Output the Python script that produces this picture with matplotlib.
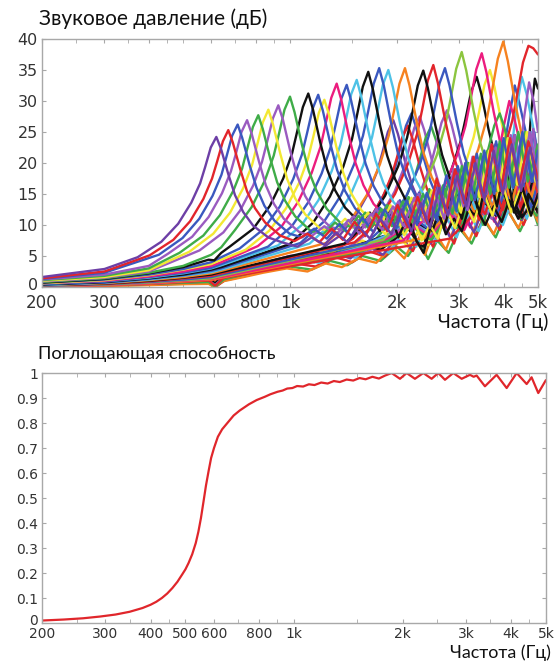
import matplotlib
matplotlib.use("Agg")
import matplotlib.pyplot as plt
import matplotlib.transforms as mtransforms
from matplotlib.ticker import FixedLocator, NullFormatter

plt.rcParams['font.family'] = ['DejaVu Sans']
LABEL_FONT = ['Lato', 'Open Sans', 'DejaVu Sans']

P = '#6d3fa6'   # purple
L = '#9a5bc0'   # lavender
R = '#e2252b'   # red
B = '#3a58bf'   # blue
G = '#3fac48'   # green
LG = '#8cc53f'  # light green
Y = '#f3e833'   # yellow
K = '#111111'   # black
M = '#ec1c7e'   # magenta
C = '#4ec2e6'   # cyan
O = '#f6821f'   # orange

# ---- верхний график: звуковое давление (Гц, дБ) ----
# почти без резонанса
v1 = [(200, .1), (300, .2), (400, .35), (500, .5), (590, .6), (615, 0), (650, 1), (750, 1.8), (850, 2.6), (1000, 3.3), (1150, 2.8), (1300, 4.2), (1450, 3.5), (1600, 5), (1800, 4.2), (2000, 6.5), (2150, 5), (2300, 7.5), (2450, 4.5), (2600, 7.5), (2800, 5.5), (3000, 9.5), (3250, 7), (3500, 11), (3800, 8), (4100, 12.5), (4450, 9), (4800, 13), (5000, 10)]
v2 = [(200, .15), (300, .25), (400, .4), (500, .55), (590, .7), (620, .1), (660, 1.2), (760, 2.1), (870, 2.9), (1030, 3.8), (1180, 3.3), (1340, 4.8), (1500, 4), (1660, 5.8), (1850, 4.9), (2060, 7.8), (2220, 5.8), (2380, 9.4), (2530, 6.5), (2700, 10.5), (2900, 7), (3100, 11.8), (3350, 8.2), (3600, 13), (3900, 9.2), (4200, 14), (4550, 10), (4900, 14.5), (5000, 11)]
v3 = [(200, .1), (300, .2), (400, .3), (500, .45), (590, .5), (612, 0), (645, .9), (740, 1.6), (840, 2.3), (980, 3), (1120, 2.5), (1260, 3.8), (1400, 3.2), (1560, 4.6), (1750, 3.9), (1950, 6.5), (2100, 4.6), (2250, 7.8), (2400, 5.2), (2550, 9), (2750, 6), (2950, 10.5), (3200, 7.5), (3450, 12), (3750, 8.5), (4050, 13), (4400, 9.5), (4750, 13.5), (5000, 10.5)]
v4 = [(200, .2), (300, .35), (400, .55), (500, .75), (590, .9), (618, .3), (655, 1.5), (770, 2.5), (880, 3.4), (1060, 4.4), (1210, 3.9), (1370, 5.5), (1530, 4.7), (1700, 7), (1900, 5.5), (2100, 9), (2270, 6.5), (2430, 10.5), (2580, 7.2), (2750, 11.5), (2950, 8), (3150, 12.8), (3400, 9), (3680, 14), (3980, 10), (4300, 15), (4650, 11), (4950, 15.5), (5000, 12)]
v5 = [(200, .25), (300, .4), (400, .65), (500, .9), (590, 1.1), (615, .4), (650, 1.8), (750, 2.9), (850, 3.9), (1000, 5), (1130, 4.4), (1280, 6.2), (1420, 5.3), (1580, 7.5), (1770, 6), (1970, 9.5), (2120, 7), (2270, 11), (2420, 7.8), (2570, 12), (2770, 8.6), (2970, 13.5), (3220, 9.6), (3470, 14.5), (3770, 10.5), (4070, 15.5), (4420, 11.5), (4770, 16), (5000, 12.5)]
v6 = [(200, .3), (300, .5), (400, .8), (500, 1), (590, 1.2), (615, .5), (650, 1.9), (760, 3), (860, 3.8), (1020, 4.6), (1170, 4), (1320, 5.6), (1480, 4.6), (1630, 6.8), (1830, 5.2), (2030, 8.5), (2180, 6.2), (2340, 10), (2490, 7), (2640, 11), (2840, 7.8), (3050, 12.5), (3300, 8.8), (3550, 13.5), (3850, 9.8), (4150, 14.5), (4500, 10.8), (4850, 15), (5000, 11.8)]

# резонансы с невысоким пиком
l01 = [(200, .4), (300, .6), (400, .9), (500, 1.2), (590, 1.5), (615, .7), (650, 2), (800, 3.5), (1000, 5), (1173, 5.4), (1369, 8.1), (1525, 11.3), (1662, 15.1), (1760, 18.6), (1818, 21.5), (1887, 25), (1955, 26.9), (2014, 24.7), (2111, 20.2), (2209, 16.4), (2326, 13.4), (2483, 11), (2620, 14.5), (2760, 10.5), (2900, 15.5), (3080, 11), (3280, 17), (3500, 12), (3750, 18.5), (4020, 12.5), (4320, 19.5), (4650, 13.5), (5000, 18)]
l02 = [(200, .35), (300, .5), (400, .8), (500, 1.1), (590, 1.3), (615, .5), (650, 1.8), (800, 3.2), (1000, 4.5), (1320, 5.6), (1540, 8.4), (1716, 11.8), (1870, 15.7), (1980, 19.3), (2046, 22.4), (2123, 26), (2200, 28), (2266, 25.8), (2376, 21), (2486, 17.1), (2618, 14), (2794, 11.5), (2940, 15), (3100, 11.2), (3270, 16.5), (3480, 11.8), (3710, 18), (3960, 12.5), (4240, 19.5), (4550, 13), (4850, 20), (5000, 16)]
l03 = [(200, .3), (400, .7), (590, 1.2), (615, .4), (650, 1.6), (800, 3), (1000, 4.2), (1392, 5.5), (1624, 8.3), (1810, 11.6), (1972, 15.4), (2088, 19), (2158, 22), (2239, 25.6), (2320, 27.5), (2390, 25.3), (2506, 20.6), (2622, 16.8), (2761, 13.8), (2946, 11.3), (3100, 15), (3248, 11), (3450, 16.5), (3670, 11.5), (3910, 18), (4180, 12), (4480, 19), (4800, 12.5), (5000, 16)]
l04 = [(200, .25), (400, .6), (590, 1), (615, .2), (650, 1.4), (800, 2.8), (1000, 4), (1500, 5.2), (1750, 7.8), (1950, 10.9), (2125, 14.5), (2250, 17.9), (2325, 20.7), (2413, 24.1), (2500, 25.9), (2575, 23.8), (2700, 19.4), (2825, 15.8), (2975, 13), (3175, 10.6), (3350, 14), (3500, 10), (3720, 15.5), (3950, 10.5), (4200, 17), (4480, 11), (4780, 18), (5000, 12)]
l05 = [(200, .2), (400, .5), (590, .9), (615, .3), (650, 1.3), (800, 2.6), (1000, 3.8), (1662, 5.7), (1939, 8.6), (2161, 12), (2355, 16), (2493, 19.7), (2576, 22.8), (2673, 26.5), (2770, 28.5), (2853, 26.2), (2992, 21.4), (3130, 17.4), (3296, 14.3), (3518, 11.7), (3700, 15.5), (3878, 11.5), (4100, 17), (4350, 12), (4620, 18.5), (4900, 12.5), (5000, 14)]
l06 = [(200, .5), (300, .8), (400, 1.1), (500, 1.3), (590, 1.5), (615, .8), (650, 2.2), (800, 3.5), (1000, 4.8), (1200, 6), (1400, 5.2), (1600, 7.5), (1800, 6), (2000, 8.5), (2150, 6.5), (2300, 9), (2450, 6.8), (2563, 10.5), (2856, 14.7), (3112, 19.6), (3295, 24.2), (3405, 28), (3533, 32.6), (3661, 35), (3771, 32.2), (3954, 26.3), (4137, 21.4), (4357, 17.5), (4650, 13.5), (5000, 15)]
l07 = [(200, .45), (400, 1), (590, 1.4), (615, .6), (650, 2), (800, 3.3), (1000, 4.6), (1200, 5.5), (1400, 5), (1600, 7), (1800, 6), (2000, 8), (2150, 9.5), (2300, 7), (2380, 6.5), (2450, 9), (2620, 14.2), (2855, 19), (3023, 23.4), (3124, 27.1), (3241, 31.5), (3359, 33.9), (3460, 31.2), (3628, 25.4), (3796, 20.7), (3997, 16.9), (4266, 13.9), (4500, 11.2), (4750, 13), (5000, 12.5)]
l08 = [(200, .3), (400, .8), (590, 1.2), (615, .4), (650, 1.7), (800, 3), (1000, 4.2), (1300, 5.5), (1600, 7), (1900, 8.5), (2200, 11), (2500, 9), (2800, 13), (3100, 10.5), (3430, 14.5), (3800, 11.5), (4100, 15), (4300, 12.5), (4500, 11.3), (4650, 18), (4780, 28), (4900, 33.6), (5000, 32)]
l09 = [(200, .3), (400, .7), (590, 1.1), (615, .3), (650, 1.6), (800, 2.9), (1000, 4), (1300, 5.2), (1600, 6.8), (1900, 8.5), (2200, 11.5), (2500, 9), (2800, 13.5), (3100, 10.5), (3400, 15), (3650, 14), (3870, 17.5), (4000, 22), (4150, 27.5), (4300, 32.5), (4430, 29.7), (4650, 24.2), (4860, 19.7), (5000, 17)]
l10 = [(200, .25), (400, .65), (590, 1), (615, .2), (650, 1.5), (800, 2.8), (1000, 3.9), (1300, 5), (1600, 6.5), (1900, 8.5), (2200, 10.5), (2500, 8.5), (2800, 12.5), (3100, 10), (3400, 14.5), (3700, 11.5), (3900, 14.5), (4050, 15), (4180, 20.5), (4320, 27.5), (4500, 33.9), (4640, 31.2), (4860, 25.4), (5000, 21.5)]
l11 = [(200, .2), (400, .6), (590, .9), (615, .2), (650, 1.4), (800, 2.7), (1000, 3.8), (1300, 4.8), (1600, 6.3), (1900, 8.2), (2200, 10.5), (2500, 8.2), (2800, 12.5), (3100, 9.5), (3400, 14), (3700, 11), (4000, 15.5), (4250, 14), (4400, 19), (4560, 27), (4720, 33), (4860, 30), (5000, 25)]
l12 = [(200, .2), (400, .55), (590, .85), (615, .1), (650, 1.3), (800, 2.6), (1000, 3.6), (1300, 4.6), (1600, 6), (1900, 7.8), (2200, 10), (2500, 8), (2800, 12), (3100, 9.2), (3300, 12.5), (3530, 13.5), (3730, 17.5), (3860, 21), (4005, 26), (4150, 30), (4270, 27.6), (4480, 22.5), (4690, 18.3), (5000, 14)]
l13 = [(200, .15), (400, .5), (590, .8), (615, .05), (650, 1.2), (800, 2.5), (1000, 3.5), (1300, 4.5), (1600, 5.8), (1900, 7.5), (2200, 9.8), (2500, 7.6), (2800, 11.5), (3000, 9), (3120, 11.8), (3315, 15.7), (3510, 19.3), (3627, 22.4), (3764, 26), (3900, 28), (4017, 25.8), (4212, 21), (4407, 17.1), (4641, 14), (4950, 11.5), (5000, 11.8)]
l14 = [(200, .3), (400, .7), (590, 1.1), (615, .2), (650, 1.5), (800, 3), (1000, 4.3), (1290, 5.2), (1505, 7.8), (1677, 10.9), (1828, 14.6), (1935, 18), (2000, 20.8), (2075, 24.2), (2150, 26), (2215, 23.9), (2322, 19.5), (2430, 15.9), (2559, 13), (2731, 10.7), (2870, 14), (3010, 10.2), (3200, 15.5), (3420, 10.8), (3650, 17), (3900, 11.5), (4200, 18.5), (4500, 12), (4800, 19), (5000, 14)]

# основная серия резонансов (пики от 620 Гц до 4.7 кГц)
m01 = [(200, 1.6), (300, 2.9), (372, 4.8), (434, 7.3), (484, 10.2), (527, 13.6), (558, 16.7), (577, 19.4), (598, 22.5), (620, 24.2), (639, 22.3), (670, 18.2), (700, 14.8), (738, 12.1), (787, 9.9), (868, 8), (950, 7.2), (1050, 6.5), (1150, 8), (1250, 6.8), (1350, 8.8), (1450, 7.2), (1560, 9.8), (1680, 7.8), (1800, 11), (1930, 8.5), (2060, 12.5), (2200, 9), (2340, 13.5), (2480, 9.5), (2630, 16), (2790, 11.5), (2960, 18), (3140, 13), (3330, 20), (3530, 14), (3750, 22), (3980, 15), (4220, 23), (4480, 15.5), (4750, 22.5), (5000, 16)]
m02 = [(200, 1.4), (300, 2.5), (402, 5.1), (469, 7.6), (523, 10.6), (570, 14.2), (603, 17.5), (623, 20.2), (647, 23.5), (670, 25.3), (690, 23.3), (724, 19), (757, 15.4), (797, 12.7), (851, 10.4), (938, 8.3), (1030, 7.4), (1120, 8.6), (1210, 7.2), (1310, 9.4), (1410, 7.6), (1520, 10.5), (1630, 8.2), (1750, 11.8), (1880, 9), (2010, 13.2), (2150, 9.6), (2290, 14.5), (2440, 10.2), (2590, 17.5), (2750, 12), (2920, 19), (3100, 13.5), (3290, 21), (3490, 14.5), (3700, 23), (3930, 15.5), (4170, 24), (4430, 16.5), (4700, 23.5), (5000, 17.5)]
m03 = [(200, 1.3), (300, 2.3), (427, 5.2), (498, 7.9), (555, 11), (605, 14.7), (641, 18.1), (662, 21), (687, 24.4), (712, 26.2), (733, 24.1), (769, 19.7), (805, 16), (847, 13.1), (904, 10.7), (997, 8.6), (1080, 8), (1170, 9.4), (1270, 7.8), (1380, 10.2), (1490, 8.2), (1600, 11.2), (1720, 8.8), (1850, 12.5), (1990, 9.4), (2130, 14), (2280, 10), (2430, 15.2), (2590, 10.8), (2760, 18), (2940, 12.5), (3120, 20), (3320, 14), (3530, 22), (3760, 15), (4000, 24), (4250, 16), (4520, 25), (4800, 17), (5000, 22)]
m04 = [(200, 1.2), (300, 2), (400, 3.4), (454, 5.4), (530, 8.1), (590, 11.3), (643, 15.1), (681, 18.6), (704, 21.5), (730, 25), (757, 26.9), (780, 24.7), (818, 20.2), (855, 16.4), (901, 13.4), (961, 11), (1060, 8.9), (1150, 8.2), (1250, 9.8), (1350, 8.4), (1460, 10.8), (1570, 8.6), (1690, 11.8), (1820, 9.2), (1950, 13), (2090, 9.8), (2240, 14.4), (2390, 10.4), (2550, 15.6), (2720, 11), (2890, 19), (3080, 13), (3270, 21), (3480, 14.5), (3700, 23), (3940, 15.5), (4190, 24.5), (4460, 16.5), (4740, 25), (5000, 18)]
m05 = [(200, 1.1), (300, 1.8), (400, 3), (488, 5.5), (570, 8.3), (635, 11.6), (692, 15.5), (733, 19.1), (757, 22.2), (786, 25.8), (814, 27.7), (838, 25.5), (879, 20.8), (920, 16.9), (969, 13.9), (1034, 11.4), (1140, 9.1), (1240, 8.5), (1340, 10.4), (1450, 8.8), (1560, 11.5), (1680, 9.2), (1810, 12.6), (1940, 9.8), (2080, 13.8), (2220, 10.4), (2370, 15), (2530, 11), (2700, 16.4), (2870, 11.8), (3050, 19.5), (3250, 14), (3450, 21.5), (3670, 15), (3900, 23.5), (4140, 16), (4400, 25), (4680, 17), (5000, 23)]
m06 = [(200, 1), (300, 1.6), (400, 2.7), (521, 5.7), (608, 8.6), (678, 12), (739, 16), (782, 19.7), (808, 22.9), (839, 26.6), (869, 28.6), (895, 26.3), (939, 21.5), (982, 17.4), (1034, 14.3), (1104, 11.7), (1217, 9.4), (1320, 8.9), (1430, 11), (1540, 9.2), (1660, 12), (1790, 9.6), (1920, 13.2), (2060, 10.2), (2200, 14.4), (2350, 10.8), (2510, 15.6), (2680, 11.4), (2850, 17), (3030, 12), (3220, 20), (3420, 14.5), (3640, 22), (3870, 15.5), (4110, 24), (4370, 16.5), (4650, 25), (4920, 17), (5000, 19)]
m07 = [(200, .9), (300, 1.5), (400, 2.5), (556, 5.9), (649, 8.8), (723, 12.3), (788, 16.4), (834, 20.2), (862, 23.4), (895, 27.2), (927, 29.3), (955, 27), (1001, 22), (1048, 17.9), (1103, 14.7), (1177, 12), (1298, 9.7), (1400, 9.2), (1510, 11.4), (1630, 9.6), (1750, 12.6), (1880, 10), (2020, 13.8), (2160, 10.6), (2310, 15), (2470, 11.2), (2630, 16.4), (2800, 11.8), (2980, 17.6), (3170, 12.4), (3370, 20.5), (3580, 15), (3800, 22.5), (4040, 16), (4300, 24.5), (4570, 17), (4850, 25.5), (5000, 19)]
m08 = [(200, .8), (300, 1.4), (400, 2.3), (500, 3.4), (600, 5.2), (640, 6.4), (700, 9.2), (780, 12.9), (850, 17.2), (900, 21.2), (930, 24.6), (965, 28.6), (1000, 30.7), (1030, 28.2), (1080, 23), (1130, 18.7), (1190, 15.4), (1270, 12.6), (1400, 10.1), (1510, 9.6), (1630, 12), (1750, 10), (1880, 13.2), (2020, 10.4), (2160, 14.5), (2310, 11), (2470, 15.8), (2640, 11.6), (2810, 17.2), (2990, 12.2), (3180, 20), (3380, 14.5), (3600, 22), (3820, 15.5), (4060, 24), (4320, 16.5), (4600, 25), (4880, 17.5), (5000, 20)]
m09 = [(200, .7), (300, 1.3), (400, 2.2), (500, 3.2), (590, 4.4), (612, 4.3), (640, 5.5), (676, 6.5), (788, 9.4), (878, 13.1), (957, 17.5), (1013, 21.5), (1047, 25), (1087, 29), (1126, 31.2), (1160, 28.7), (1216, 23.4), (1272, 19), (1340, 15.6), (1430, 12.8), (1576, 10.3), (1680, 12), (1790, 9), (1900, 12.5), (2020, 8), (2150, 11.5), (2270, 7.5), (2380, 5.5), (2470, 9), (2580, 13), (2720, 9.5), (2880, 15), (3050, 11), (3230, 17), (3420, 12), (3620, 19), (3830, 13), (4050, 20), (4280, 12), (4520, 16), (4780, 11.5), (5000, 15)]
m10 = [(200, .7), (300, 1.2), (400, 2), (500, 2.9), (600, 4), (640, 4.8), (721, 6.2), (841, 9.3), (937, 13), (1021, 17.4), (1081, 21.4), (1117, 24.8), (1159, 28.8), (1201, 31), (1237, 28.5), (1297, 23.3), (1357, 18.9), (1429, 15.5), (1525, 12.7), (1681, 10.2), (1790, 12.8), (1910, 10.2), (2040, 14), (2170, 10.8), (2310, 15.2), (2460, 11.4), (2620, 16.5), (2790, 12), (2970, 19.5), (3160, 14), (3360, 21.5), (3580, 15), (3810, 23.5), (4050, 16), (4310, 24.5), (4590, 17), (4880, 25), (5000, 20)]
m11 = [(200, .6), (300, 1.1), (400, 1.9), (500, 2.8), (600, 3.7), (640, 4.4), (750, 6), (875, 9.1), (975, 12.7), (1063, 16.9), (1125, 20.8), (1163, 24.2), (1206, 28.1), (1250, 30.2), (1288, 27.8), (1350, 22.7), (1413, 18.4), (1488, 15.1), (1588, 12.4), (1750, 10), (1860, 8.5), (1980, 12), (2100, 8.3), (2230, 11), (2350, 7.5), (2480, 10), (2610, 7.8), (2760, 12.5), (2920, 9.5), (3100, 14), (3300, 10.5), (3500, 15.5), (3720, 11.5), (3950, 17), (4200, 12), (4470, 16), (4750, 11.5), (5000, 14)]
m12 = [(200, .6), (300, 1), (400, 1.7), (500, 2.5), (600, 3.4), (640, 4), (812, 6.6), (948, 9.8), (1056, 13.8), (1151, 18.4), (1219, 22.6), (1259, 26.2), (1307, 30.5), (1354, 32.8), (1395, 30.2), (1462, 24.6), (1530, 20), (1611, 16.4), (1720, 13.4), (1896, 10.8), (2020, 13.6), (2150, 11), (2290, 14.8), (2440, 11.4), (2600, 16), (2770, 12), (2950, 19), (3140, 14), (3340, 21), (3560, 15), (3790, 23), (4030, 16), (4290, 24.5), (4570, 17), (4860, 25), (5000, 21)]
m13 = [(200, .5), (300, .9), (400, 1.6), (500, 2.3), (600, 3.1), (640, 3.7), (867, 6.5), (1012, 9.8), (1127, 13.7), (1228, 18.3), (1301, 22.5), (1344, 26.1), (1394, 30.3), (1445, 32.6), (1488, 30), (1561, 24.5), (1633, 19.9), (1720, 16.3), (1835, 13.4), (2023, 10.8), (2150, 13.8), (2290, 11), (2440, 15), (2600, 11.6), (2770, 16.2), (2950, 12.2), (3140, 19.5), (3340, 14.5), (3560, 21.5), (3790, 15.5), (4030, 23.5), (4290, 16.5), (4570, 24.5), (4860, 17), (5000, 21)]
m14 = [(200, .5), (300, .9), (400, 1.5), (500, 2.2), (600, 3), (640, 3.5), (925, 6.7), (1079, 10), (1203, 14), (1311, 18.7), (1388, 23), (1434, 26.7), (1488, 31.1), (1542, 33.4), (1588, 30.7), (1665, 25), (1742, 20.4), (1835, 16.7), (1958, 13.7), (2159, 11), (2290, 14), (2430, 11.2), (2580, 15.4), (2740, 11.8), (2910, 16.8), (3100, 12.4), (3300, 20), (3510, 15), (3740, 22), (3980, 16), (4240, 24), (4510, 17), (4800, 25), (5000, 19)]
m15 = [(200, .4), (300, .8), (400, 1.4), (500, 2), (600, 2.8), (640, 3.2), (997, 6.9), (1163, 10.4), (1296, 14.6), (1413, 19.4), (1496, 23.9), (1546, 27.8), (1604, 32.3), (1662, 34.7), (1712, 31.9), (1795, 26), (1878, 21.2), (1978, 17.4), (2111, 14.2), (2327, 11.5), (2430, 13), (2520, 9), (2620, 12), (2750, 8.5), (2900, 11), (3050, 9), (3200, 13), (3300, 15), (3400, 12), (3550, 10), (3750, 13), (3950, 10.5), (4150, 14), (4400, 11), (4700, 15), (5000, 12)]
m16 = [(200, .4), (300, .7), (400, 1.3), (500, 1.9), (600, 2.6), (640, 3), (1070, 7.1), (1249, 10.6), (1392, 14.8), (1516, 19.8), (1606, 24.4), (1659, 28.2), (1722, 32.8), (1784, 35.3), (1838, 32.5), (1927, 26.5), (2016, 21.5), (2123, 17.7), (2266, 14.5), (2498, 11.6), (2640, 15), (2790, 11.8), (2960, 16.4), (3140, 12.4), (3330, 19.5), (3540, 14.5), (3760, 21.5), (4000, 15.5), (4250, 23.5), (4520, 16.5), (4800, 24.5), (5000, 19)]
m17 = [(200, .3), (300, .7), (400, 1.2), (500, 1.8), (600, 2.4), (640, 2.8), (1136, 7), (1325, 10.5), (1477, 14.7), (1609, 19.6), (1704, 24.2), (1760, 28), (1827, 32.6), (1893, 35), (1950, 32.2), (2044, 26.3), (2139, 21.4), (2253, 17.5), (2404, 14.4), (2650, 11.6), (2800, 15.2), (2960, 12), (3140, 16.6), (3330, 12.6), (3540, 20), (3760, 15), (4000, 22), (4250, 16), (4520, 23.5), (4800, 17), (5000, 22)]
m18 = [(200, .3), (300, .6), (400, 1.1), (500, 1.6), (600, 2.2), (640, 2.6), (1265, 7.1), (1476, 10.6), (1645, 14.8), (1793, 19.8), (1898, 24.4), (1961, 28.2), (2035, 32.8), (2109, 35.3), (2172, 32.5), (2278, 26.5), (2383, 21.5), (2510, 17.7), (2678, 14.5), (2953, 11.6), (3120, 15.4), (3300, 12.2), (3500, 17), (3720, 12.8), (3960, 18.4), (4220, 13.6), (4500, 19.8), (4780, 14.4), (5000, 18.5)]
m19 = [(200, .3), (300, .55), (400, 1), (500, 1.5), (600, 2), (640, 2.4), (1425, 7), (1663, 10.5), (1853, 14.7), (2019, 19.5), (2138, 24.1), (2209, 27.9), (2292, 32.5), (2375, 34.9), (2446, 32.1), (2565, 26.2), (2684, 21.3), (2826, 17.5), (3016, 14.3), (3325, 11.5), (3500, 15.6), (3700, 12), (3920, 17), (4150, 12.6), (4400, 18.4), (4650, 13.2), (4900, 19), (5000, 17)]
m20 = [(200, .25), (300, .5), (400, .9), (500, 1.4), (600, 1.8), (640, 2.2), (1521, 7.2), (1775, 10.7), (1977, 15), (2155, 20), (2282, 24.7), (2358, 28.6), (2446, 33.3), (2535, 35.8), (2611, 32.9), (2738, 26.9), (2865, 21.8), (3017, 17.9), (3219, 14.7), (3549, 11.8), (3750, 16), (3980, 12.4), (4220, 17.6), (4480, 13), (4750, 19), (5000, 15)]
m21 = [(200, .2), (300, .45), (400, .8), (500, 1.2), (600, 1.6), (640, 2), (1640, 7.1), (1914, 10.6), (2133, 14.8), (2324, 19.8), (2461, 24.4), (2543, 28.2), (2638, 32.8), (2734, 35.3), (2816, 32.5), (2953, 26.5), (3089, 21.5), (3253, 17.7), (3472, 14.5), (3828, 11.6), (4050, 16), (4280, 12.2), (4520, 17.4), (4780, 12.8), (5000, 17)]
m22 = [(200, .2), (300, .4), (400, .7), (500, 1.1), (600, 1.4), (640, 1.8), (1829, 7.6), (2134, 11.4), (2377, 15.9), (2591, 21.2), (2743, 26.2), (2835, 30.3), (2941, 35.2), (3048, 37.9), (3139, 34.9), (3292, 28.4), (3444, 23.1), (3627, 19), (3871, 15.5), (4267, 12.5), (4500, 16.5), (4750, 12.8), (5000, 17.5)]
m23 = [(200, .15), (300, .35), (400, .6), (500, 1), (600, 1.3), (640, 1.6), (2083, 7.5), (2430, 11.3), (2707, 15.8), (2950, 21.1), (3124, 26), (3228, 30.2), (3350, 35.1), (3471, 37.7), (3575, 34.7), (3749, 28.3), (3922, 23), (4130, 18.9), (4408, 15.5), (4650, 18), (4859, 13.5), (5000, 15)]
m24 = [(200, .1), (300, .3), (400, .55), (500, .9), (600, 1.2), (640, 1.5), (2395, 7.9), (2794, 11.9), (3114, 16.6), (3393, 22.2), (3593, 27.3), (3713, 31.7), (3852, 36.8), (3992, 39.6), (4112, 36.4), (4311, 29.7), (4511, 24.2), (4750, 19.8), (5000, 16.5)]
m25 = [(200, .1), (300, .25), (400, .5), (500, .8), (600, 1.1), (640, 1.4), (2820, 7.8), (3290, 11.7), (3666, 16.3), (3995, 21.8), (4230, 26.8), (4371, 31.1), (4536, 36.2), (4700, 38.9), (4850, 38.5), (5000, 37.5)]

low_curves = [(v1, G), (v2, R), (v3, O), (v4, C), (v5, M), (v6, P),
              (l01, P), (l02, B), (l03, L), (l04, G), (l05, L), (l06, Y), (l07, K),
              (l08, K), (l09, B), (l10, C), (l11, L), (l12, M), (l13, G), (l14, R)]
main_curves = [(m25, R), (m24, O), (m23, M), (m22, LG), (m21, B), (m20, R), (m19, K),
               (m18, O), (m17, C), (m16, B), (m15, K), (m14, C), (m13, B), (m12, M),
               (m11, Y), (m10, B), (m09, K), (m08, G), (m07, L), (m06, Y), (m05, G),
               (m04, L), (m03, B), (m02, R), (m01, P)]

# ---- нижний график: поглощающая способность ----
abs_freq = [200, 230, 260, 290, 320, 350, 380, 400, 415, 430, 445, 460, 475, 490, 500, 510, 522, 534, 543, 552,
            561, 570, 580, 589, 600, 615, 632, 649, 680, 707, 750, 788, 830, 860, 900, 930, 958, 990, 1020,
            1060, 1100, 1140, 1190, 1240, 1290, 1340, 1400, 1460, 1520, 1580, 1650, 1720, 1790, 1866, 1968,
            2054, 2165, 2284, 2409, 2513, 2623, 2766, 2919, 3077, 3150, 3211, 3386, 3648, 3890, 4147, 4420,
            4561, 4760, 4990]
abs_val = [0.010, 0.014, 0.019, 0.026, 0.034, 0.045, 0.060, 0.073, 0.085, 0.100, 0.118, 0.140, 0.165, 0.195,
           0.215, 0.240, 0.275, 0.320, 0.365, 0.420, 0.485, 0.550, 0.610, 0.660, 0.700, 0.745, 0.775, 0.795,
           0.830, 0.850, 0.875, 0.892, 0.905, 0.915, 0.925, 0.930, 0.938, 0.940, 0.948, 0.946, 0.955, 0.952,
           0.962, 0.958, 0.968, 0.964, 0.974, 0.970, 0.980, 0.975, 0.985, 0.978, 0.990, 1.000, 0.977, 1.000,
           0.977, 1.000, 0.977, 1.000, 0.973, 1.000, 0.977, 0.993, 0.985, 0.990, 0.947, 0.993, 0.940, 1.000,
           0.956, 0.983, 0.920, 0.970]

top_ticks = [200, 300, 400, 600, 800, 1000, 2000, 3000, 4000, 5000]
top_ticklabels = ['200', '300', '400', '600', '800', '1k', '2k', '3k', '4k', '5k']
bot_ticks = [200, 300, 400, 500, 600, 800, 1000, 2000, 3000, 4000, 5000]
bot_ticklabels = ['200', '300', '400', '500', '600', '800', '1k', '2k', '3k', '4k', '5k']
minor_ticks = [250, 350, 450, 500, 700, 900, 1500, 2500, 3500, 4500]

SPINE = '#a8a8a8'
TXT = '#333333'

fig = plt.figure(figsize=(5.54, 6.64), dpi=100)
ax1 = fig.add_axes([0.0758, 0.5678, 0.8953, 0.3735])
ax2 = fig.add_axes([0.0758, 0.0617, 0.9097, 0.3765])

for pts, col in low_curves + main_curves:
    f, v = zip(*pts)
    ax1.plot(f, v, color=col, lw=1.7, solid_joinstyle='round', solid_capstyle='round')

ax2.plot(abs_freq, abs_val, color='#e0262b', lw=1.6, solid_joinstyle='round')

for ax, ticks, labels in [(ax1, top_ticks, top_ticklabels), (ax2, bot_ticks, bot_ticklabels)]:
    ax.set_xscale('log')
    ax.set_xlim(200, 5000)
    ax.xaxis.set_major_locator(FixedLocator(ticks))
    ax.set_xticklabels(labels)
    ax.xaxis.set_minor_locator(FixedLocator(minor_ticks))
    ax.xaxis.set_minor_formatter(NullFormatter())
    for s in ax.spines.values():
        s.set_color(SPINE)
        s.set_linewidth(1.0)
    ax.tick_params(which='both', direction='in', length=3, color=SPINE, top=True, right=True)

ax1.set_ylim(0, 40)
ax1.set_yticks(range(0, 41, 5))
ax1.tick_params(axis='y', labelsize=11.5, labelcolor=TXT, pad=3)
ax1.tick_params(axis='x', labelsize=12, labelcolor=TXT, pad=5)

ax2.set_ylim(0, 1)
ax2.set_yticks([i / 10 for i in range(11)])
ax2.set_yticklabels(['0', '0.1', '0.2', '0.3', '0.4', '0.5', '0.6', '0.7', '0.8', '0.9', '1'])
ax2.tick_params(labelsize=10, labelcolor=TXT, pad=3)

# подпись "0" по оси Y чуть приподнята, как в оригинале
lift = mtransforms.ScaledTranslation(0, 2.5 / 72, fig.dpi_scale_trans)
for ax in (ax1, ax2):
    lab = ax.get_yticklabels()[0]
    lab.set_transform(lab.get_transform() + lift)

fig.text(0.070, 0.987, 'Звуковое давление (дБ)', ha='left', va='top', fontsize=15, family=LABEL_FONT, color='#111111')
fig.text(0.990, 0.529, 'Частота (Гц)', ha='right', va='top', fontsize=14, family=LABEL_FONT, color='#111111')
fig.text(0.068, 0.479, 'Поглощающая способность', ha='left', va='top', fontsize=13.2, family=LABEL_FONT, color='#111111')
fig.text(0.995, 0.030, 'Частота (Гц)', ha='right', va='top', fontsize=12.9, family=LABEL_FONT, color='#111111')

fig.savefig('out.png', dpi=100)
